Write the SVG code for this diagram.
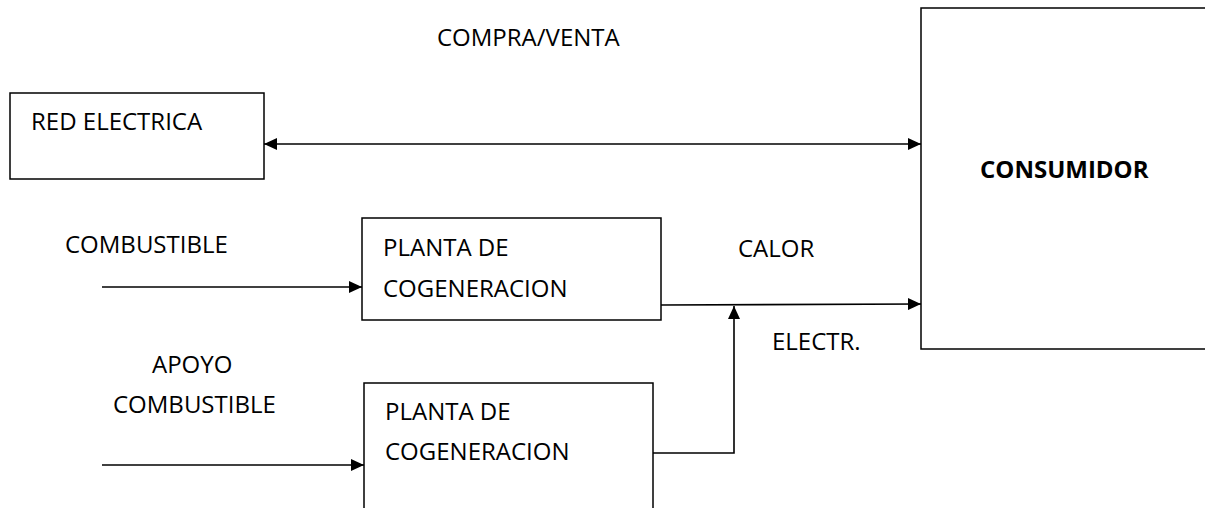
<svg xmlns="http://www.w3.org/2000/svg" width="1205" height="508" viewBox="0 0 1205 508">
<style>
.box{fill:#fff;stroke:#000;stroke-width:1.5}
.t{font-family:"Open Sans","Liberation Sans",sans-serif;font-size:24px;fill:#000}
.b{font-weight:bold}
.c{fill:none;stroke:#000;stroke-width:1.6}
</style>
<defs>
<marker id="ah" viewBox="0 0 13 12" refX="13" refY="6" markerWidth="13" markerHeight="12" markerUnits="userSpaceOnUse" orient="auto-start-reverse"><path d="M0,0 L13,6 L0,12 z" fill="#000"/></marker>
</defs>
<rect width="1205" height="508" fill="#fff"/>
<g id="red"><rect class="box" x="10" y="93" width="254" height="86"/><text class="t" x="31" y="130">RED ELECTRICA</text></g>
<g id="consumidor"><rect class="box" x="921" y="8" width="300" height="341"/><text class="t b" x="980" y="178">CONSUMIDOR</text></g>
<g id="planta1"><rect class="box" x="362" y="218" width="299" height="102"/><text class="t" x="383" y="256">PLANTA DE</text><text class="t" x="383" y="297">COGENERACION</text></g>
<g id="planta2"><rect class="box" x="364" y="383" width="289" height="140"/><text class="t" x="385" y="420">PLANTA DE</text><text class="t" x="385" y="460">COGENERACION</text></g>
<g id="labels">
<text class="t" x="437" y="46">COMPRA/VENTA</text>
<text class="t" x="65" y="253">COMBUSTIBLE</text>
<text class="t" x="152" y="373">APOYO</text>
<text class="t" x="113" y="413">COMBUSTIBLE</text>
<text class="t" x="738" y="257">CALOR</text>
<text class="t" x="772" y="350">ELECTR.</text>
</g>
<g id="connectors">
<line class="c" x1="264" y1="144" x2="921" y2="144" marker-start="url(#ah)" marker-end="url(#ah)"/>
<line class="c" x1="102" y1="287" x2="362" y2="287" marker-end="url(#ah)"/>
<line class="c" x1="102" y1="465" x2="364" y2="465" marker-end="url(#ah)"/>
<line class="c" x1="661" y1="305" x2="921" y2="304" marker-end="url(#ah)"/>
<polyline class="c" points="653,453 734,453 734,306" marker-end="url(#ah)"/>
</g>
</svg>
